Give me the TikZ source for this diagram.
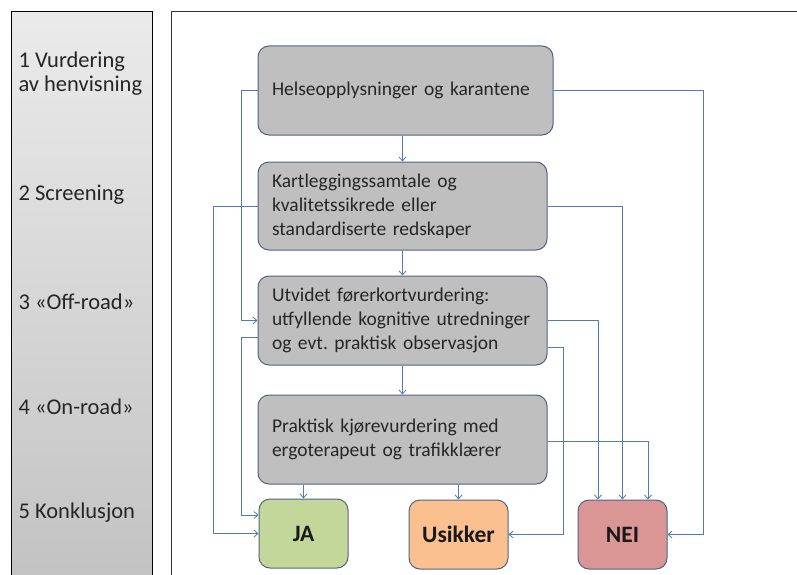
\documentclass[tikz,border=0pt]{standalone}
\usepackage{fontspec}
\setmainfont{Carlito}
\usetikzlibrary{arrows.meta}
\frenchspacing

\definecolor{boxgray}{RGB}{191,191,191}
\definecolor{boxline}{RGB}{80,100,130}
\definecolor{flowblue}{RGB}{79,124,180}
\definecolor{jagreen}{RGB}{196,215,155}
\definecolor{usorange}{RGB}{250,192,144}
\definecolor{neired}{RGB}{217,150,148}

\tikzset{
  stage/.style={draw=boxline, line width=1pt, fill=boxgray, rounded corners=11pt,
    align=left, inner xsep=14pt, font=\fontsize{19.5}{24}\selectfont, text=black!85},
  result/.style={draw=boxline, line width=1pt, rounded corners=11pt,
    minimum height=69pt, font=\fontsize{23.5}{26}\selectfont\bfseries, text=black!90},
  flow/.style={draw=flowblue, line width=0.8pt, -{Straight Barb[length=4pt,width=7pt]}},
  phase/.style={anchor=west, align=left, font=\fontsize{22.5}{24}\selectfont, text=black!85}
}

\begin{document}
\begin{tikzpicture}[x=1pt, y=-1pt]
  \useasboundingbox (0,0) rectangle (797,575);

  % Panels
  \shade[top color=black!8, bottom color=black!24, draw=black, line width=1pt]
    (11,12) rectangle (152,590);
  \draw[black!80, line width=1pt] (171,590) -- (171,12) -- (810,12);

  % Phase labels
  \node[phase] (p1) at (15,74) {1 Vurdering\\av henvisning};
  \node[phase] (p2) at (15,195) {2 Screening};
  \node[phase] (p3) at (15,302) {3 «Off-road»};
  \node[phase] (p4) at (15,407) {4 «On-road»};
  \node[phase] (p5) at (15,513) {5 Konklusjon};

  % Stages
  \node[stage, text width=267pt, minimum height=89pt] (b1) at (405.5,90.5)
    {Helseopplysninger og karantene};
  \node[stage, text width=261pt, minimum height=88pt] (b2) at (402.5,206)
    {Kartleggingssamtale og\\kvalitetssikrede eller\\standardiserte redskaper};
  \node[stage, text width=261pt, minimum height=89pt] (b3) at (402.5,320.5)
    {Utvidet førerkortvurdering:\\utfyllende kognitive utredninger\\og evt. praktisk observasjon};
  \node[stage, text width=261pt, minimum height=89pt] (b4) at (402.5,439.5)
    {Praktisk kjørevurdering med\\ergoterapeut og trafikklærer};

  % Results
  \node[result, fill=jagreen, minimum width=89pt] (ja) at (303.5,533.5) {JA};
  \node[result, fill=usorange, minimum width=99pt] (us) at (458.5,534.5) {Usikker};
  \node[result, fill=neired, minimum width=89pt] (nei) at (622.5,534.5) {NEI};

  % Turning points
  \coordinate (lx1) at (241,0);
  \coordinate (lx2) at (213,0);
  \coordinate (rx1) at (703,0);
  \coordinate (rx2) at (563,0);

  % Main line
  \draw[flow] (b1.south -| b2) -- (b2.north);
  \draw[flow] (b2.south) -- (b3.north);
  \draw[flow] (b3.south) -- (b4.north);
  \draw[flow] (b4.south -| ja) -- (ja.north);
  \draw[flow] (b4.south -| us) -- (us.north);

  % Left side
  \draw[flow] (b1.west) -| (lx1 |- b3.west) -- (b3.west);
  \draw[flow] ([yshift=-17pt]b3.west) -| (lx1 |- 0,515) -- ([yshift=18.5pt]ja.west);
  \draw[flow] (b2.west) -| (lx2 |- ja.west) -- (ja.west);

  % Right side
  \draw[flow] (b1.east) -| (rx1 |- nei.east) -- (nei.east);
  \draw[flow] (b2.east) -| (nei.north);
  \draw[flow] (b3.east) -| ([xshift=-24.5pt]nei.north);
  \draw[flow] ([yshift=-27pt]b3.east) -| (rx2 |- us.east) -- (us.east);
  \draw[flow] ([yshift=-1.5pt]b4.east) -| ([xshift=25.5pt]nei.north);
\end{tikzpicture}
\end{document}
